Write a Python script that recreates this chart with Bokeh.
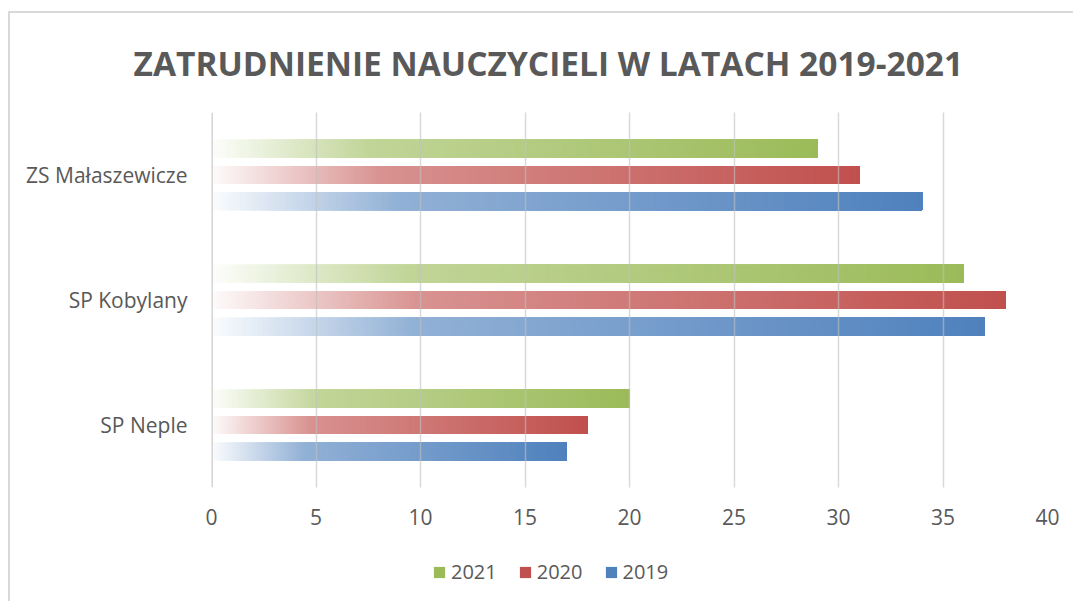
from bokeh.plotting import figure
from bokeh.layouts import column
from bokeh.models import (ColumnDataSource, FactorRange, Range1d, Legend,
                          LegendItem, Span, FixedTicker)
from bokeh.transform import dodge
from bokeh.embed import file_html
from bokeh.resources import INLINE

# ---- data ----
schools = ["ZS Małaszewicze", "SP Kobylany", "SP Neple"]
years = ["2021", "2020", "2019"]
v2021 = [29, 36, 20]
v2020 = [31, 38, 18]
v2019 = [34, 37, 17]
x_ticks = [0, 5, 10, 15, 20, 25, 30, 35, 40]
title_text = "ZATRUDNIENIE NAUCZYCIELI W LATACH 2019-2021"

# ---- style ----
series_colors = {"2021": (155, 187, 89), "2020": (192, 80, 77), "2019": (79, 129, 189)}
series_offsets = {"2021": 0.212, "2020": 0.0, "2019": -0.212}
BAR_H = 0.142
NSEG = 200
TXT = "#595959"
FONT = "Open Sans"
BORDER = "2px solid #d9d9d9"

p = figure(width=1065, height=527, output_backend="svg", toolbar_location=None,
           y_range=FactorRange(factors=schools[::-1]), x_range=Range1d(0, 40),
           min_border_left=201, min_border_right=28, min_border_top=99,
           min_border_bottom=53, margin=(11, 0, 0, 8))
p.styles = {"border-top": BORDER, "border-left": BORDER}
p.outline_line_color = None
p.background_fill_color = "white"
p.border_fill_color = "white"

p.title.text = title_text
p.title.align = "left"
p.title.offset = -78
p.title.vertical_align = "top"
p.title.text_font = FONT
p.title.text_font_size = "33.5px"
p.title.text_font_style = "bold"
p.title.text_color = TXT
p.title.standoff = 50


def grad_frac(t):
    s1, f0, f1 = 0.26, 0.02, 0.62
    if t < s1:
        return f0 + (f1 - f0) * t / s1
    return f1 + (1.0 - f1) * (t - s1) / (1.0 - s1)


def mix(rgb, f):
    r, g, b = (int(round(255 + (c - 255) * f)) for c in rgb)
    return "#%02x%02x%02x" % (r, g, b)


for yr, vals in zip(years, [v2021, v2020, v2019]):
    ys, lefts, rights, cols = [], [], [], []
    for sch, v in zip(schools, vals):
        for i in range(NSEG):
            t0 = i / NSEG
            ys.append(sch)
            lefts.append(v * t0)
            rights.append(v)
            cols.append(mix(series_colors[yr], grad_frac((i + 0.5) / NSEG)))
    src = ColumnDataSource(dict(y=ys, left=lefts, right=rights, color=cols))
    p.hbar(y=dodge("y", series_offsets[yr], range=p.y_range), left="left", right="right",
           height=BAR_H, fill_color="color", line_color=None, source=src)

# axes
p.xaxis.ticker = FixedTicker(ticks=x_ticks)
p.xaxis.axis_line_color = None
p.xaxis.major_tick_line_color = None
p.xaxis.minor_tick_line_color = None
p.xaxis.major_label_text_font = FONT
p.xaxis.major_label_text_font_size = "21px"
p.xaxis.major_label_text_color = TXT
p.xaxis.major_label_standoff = 15

p.yaxis.axis_line_color = None
p.yaxis.major_tick_line_color = None
p.yaxis.minor_tick_line_color = None
p.yaxis.major_label_text_font = FONT
p.yaxis.major_label_text_font_size = "21px"
p.yaxis.major_label_text_color = TXT
p.yaxis.major_label_standoff = 18

p.ygrid.grid_line_color = None
p.xgrid.ticker = FixedTicker(ticks=x_ticks)
p.xgrid.grid_line_color = "#bfbfbf"
p.xgrid.grid_line_alpha = 0.6
p.xgrid.grid_line_width = 1.5
p.xgrid.level = "overlay"

p.add_layout(Span(location=0, dimension="height", line_color="#d4d4d4", line_width=3))

# ---- legend strip (separate figure, below the chart) ----
leg = figure(width=1065, height=63, output_backend="svg", toolbar_location=None,
             x_range=Range1d(0, 1), y_range=Range1d(0, 1),
             x_axis_type=None, y_axis_type=None,
             min_border_left=201, min_border_right=28, min_border_top=0, min_border_bottom=0,
             margin=(0, 0, 0, 8))
leg.styles = {"border-left": BORDER}
leg.grid.visible = False
leg.outline_line_color = None
leg.background_fill_color = "white"
leg.border_fill_color = "white"

items = []
for yr in years:
    # swatch-only renderer: zero-width bar far outside the visible range
    r = leg.hbar(y=[50], left=[0], right=[0], height=0.1,
                 fill_color=mix(series_colors[yr], 1.0), line_color=None)
    items.append(LegendItem(label=yr, renderers=[r]))
legend = Legend(items=items, location=(221, 16), orientation="horizontal",
                glyph_width=14, glyph_height=14, label_standoff=5, spacing=21,
                padding=0, margin=0, border_line_color=None, background_fill_alpha=0,
                label_text_font=FONT, label_text_font_size="20px", label_text_color=TXT)
leg.add_layout(legend)

layout = column(p, leg, spacing=0)
open("out.html", "w").write(file_html(layout, INLINE))
